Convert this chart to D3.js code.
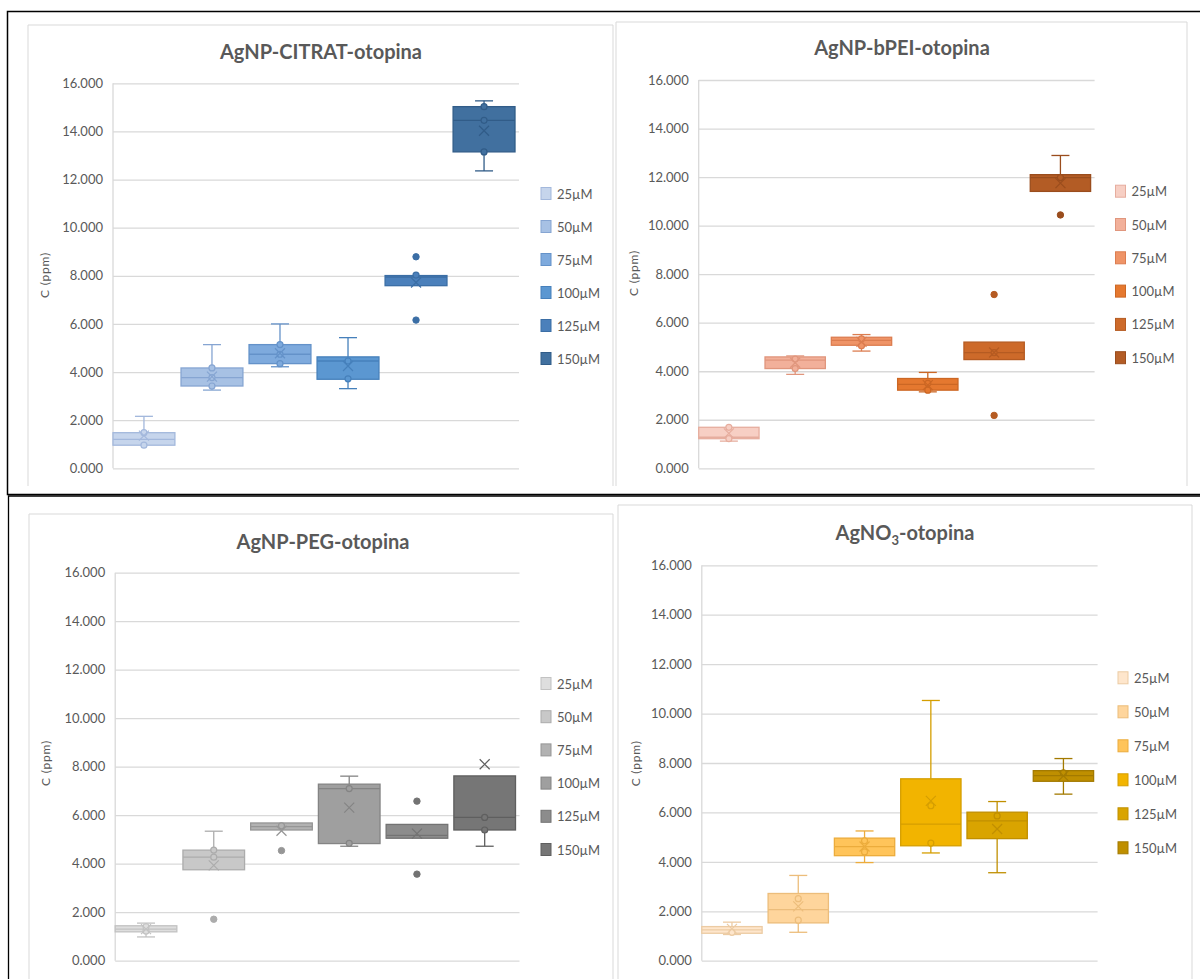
<!DOCTYPE html>
<html>
<head>
<meta charset="utf-8">
<script src="https://cdn.jsdelivr.net/npm/d3@7"></script>
<style>
  body { margin: 0; background: #fff; }
  svg { display: block; font-family: Lato, "Open Sans", sans-serif; }
</style>
</head>
<body>
<svg id="chart" width="1200" height="979"></svg>
<script>
// concentrations (one box per series)
const sizes = ["25µM", "50µM", "75µM", "100µM", "125µM", "150µM"];
const yTicks = [0, 2, 4, 6, 8, 10, 12, 14, 16];

// box stats: lo/hi = whisker ends, pts = inner points, out = outliers
const citrat = [
  { lo: 0.96, q1: 0.96, med: 1.20, q3: 1.48, hi: 2.16, mean: 1.36, pts: [0.96, 1.48], out: [] },
  { lo: 3.25, q1: 3.42, med: 3.77, q3: 4.17, hi: 5.14, mean: 3.81, pts: [3.42, 3.77, 4.17], out: [] },
  { lo: 4.22, q1: 4.35, med: 4.74, q3: 5.14, hi: 6.00, mean: 4.78, pts: [4.35, 4.74, 5.14], out: [] },
  { lo: 3.31, q1: 3.70, med: 4.46, q3: 4.63, hi: 5.43, mean: 4.25, pts: [3.72, 4.46], out: [] },
  { lo: 7.59, q1: 7.59, med: 7.95, q3: 8.01, hi: 8.01, mean: 7.72, pts: [8.03], out: [8.79, 6.16] },
  { lo: 12.36, q1: 13.15, med: 14.46, q3: 15.03, hi: 15.27, mean: 14.03, pts: [13.15, 14.46, 15.03], out: [] }
];
const bpei = [
  { lo: 1.12, q1: 1.22, med: 1.28, q3: 1.69, hi: 1.69, mean: 1.44, pts: [1.22, 1.69], out: [] },
  { lo: 3.87, q1: 4.11, med: 4.46, q3: 4.59, hi: 4.63, mean: 4.35, pts: [4.11, 4.50], out: [] },
  { lo: 4.83, q1: 5.07, med: 5.27, q3: 5.40, hi: 5.51, mean: 5.21, pts: [5.05, 5.33], out: [] },
  { lo: 3.15, q1: 3.22, med: 3.46, q3: 3.70, hi: 3.95, mean: 3.43, pts: [3.22, 3.50], out: [] },
  { lo: 4.48, q1: 4.48, med: 4.77, q3: 5.20, hi: 5.20, mean: 4.77, pts: [4.77], out: [7.16, 2.18] },
  { lo: 11.41, q1: 11.41, med: 11.98, q3: 12.10, hi: 12.89, mean: 11.75, pts: [11.98], out: [10.44] }
];
const peg = [
  { lo: 0.98, q1: 1.19, med: 1.30, q3: 1.44, hi: 1.55, mean: 1.30, pts: [1.22, 1.40], out: [] },
  { lo: 3.75, q1: 3.75, med: 4.27, q3: 4.56, hi: 5.34, mean: 3.93, pts: [4.27, 4.56], out: [1.71] },
  { lo: 5.39, q1: 5.39, med: 5.53, q3: 5.68, hi: 5.68, mean: 5.36, pts: [5.56], out: [4.54] },
  { lo: 4.72, q1: 4.83, med: 7.10, q3: 7.28, hi: 7.61, mean: 6.31, pts: [4.84, 7.10], out: [] },
  { lo: 5.05, q1: 5.05, med: 5.17, q3: 5.62, hi: 5.62, mean: 5.24, pts: [], out: [6.58, 3.57] },
  { lo: 4.72, q1: 5.39, med: 5.91, q3: 7.62, hi: 7.62, mean: 8.10, pts: [5.39, 5.91], out: [] }
];
const agno3 = [
  { lo: 1.06, q1: 1.11, med: 1.25, q3: 1.38, hi: 1.56, mean: 1.29, pts: [1.15], out: [] },
  { lo: 1.15, q1: 1.53, med: 2.07, q3: 2.72, hi: 3.45, mean: 2.20, pts: [1.64, 2.51], out: [] },
  { lo: 3.97, q1: 4.25, med: 4.62, q3: 4.96, hi: 5.25, mean: 4.62, pts: [4.40, 4.85], out: [] },
  { lo: 4.36, q1: 4.65, med: 5.53, q3: 7.36, hi: 10.53, mean: 6.47, pts: [4.76, 6.27], out: [] },
  { lo: 3.56, q1: 4.94, med: 5.66, q3: 6.01, hi: 6.44, mean: 5.33, pts: [5.86], out: [] },
  { lo: 6.74, q1: 7.26, med: 7.49, q3: 7.69, hi: 8.18, mean: 7.48, pts: [7.60], out: [] }
];

// palettes (fill / outline)
const blueFill = ["#c6d5ec", "#a7c1e4", "#7eaadd", "#5b97d1", "#4b80bb", "#41709f"];
const blueLine = ["#a3b8dc", "#86a5d2", "#6492c9", "#4680bb", "#3b6ea5", "#315c88"];
const orangeFill = ["#f7cfc4", "#f2b09a", "#ef9467", "#e5782f", "#cd6a2a", "#b35c25"];
const orangeLine = ["#e6ad9e", "#e0967d", "#dc7d50", "#cc6724", "#b55b22", "#9a4d1d"];
const grayFill = ["#dedede", "#c8c8c8", "#b2b2b2", "#9f9f9f", "#8c8c8c", "#767676"];
const grayLine = ["#c2c2c2", "#acacac", "#969696", "#848484", "#737373", "#5f5f5f"];
const goldFill = ["#fee6cc", "#fed59c", "#ffc45a", "#f2b400", "#d9a400", "#bf8f00"];
const goldLine = ["#eccba3", "#ecbd7b", "#ecac3c", "#d59e00", "#c08f00", "#a37a00"];

const panels = [
  { title: ["AgNP-CITRAT-otopina"], data: citrat, fill: blueFill, line: blueLine,
    frame: { l: 28, t: 25, r: 613, b: 486 }, plot: { l: 113, r: 519, t: 83.3, b: 468.3 },
    legend: { x: 541, y: 194, dy: 33 }, yTitle: { x: 45, y: 275 }, tp: { x: 321, y: 59 } },
  { title: ["AgNP-bPEI-otopina"], data: bpei, fill: orangeFill, line: orangeLine,
    frame: { l: 616, t: 22, r: 1187, b: 486 }, plot: { l: 698.7, r: 1094.6, t: 80, b: 468.3 },
    legend: { x: 1115.5, y: 191.7, dy: 33.3 }, yTitle: { x: 633.5, y: 273 }, tp: { x: 902, y: 55 } },
  { title: ["AgNP-PEG-otopina"], data: peg, fill: grayFill, line: grayLine,
    frame: { l: 29, t: 514, r: 613, b: 990 }, plot: { l: 115.2, r: 519.5, t: 572.7, b: 960.7 },
    legend: { x: 541, y: 684, dy: 33.2 }, yTitle: { x: 46, y: 763 }, tp: { x: 323, y: 549 } },
  { title: ["AgNO", "3", "-otopina"], data: agno3, fill: goldFill, line: goldLine,
    frame: { l: 618, t: 505, r: 1192, b: 990 }, plot: { l: 701.8, r: 1097.6, t: 565.3, b: 960.7 },
    legend: { x: 1118, y: 678.3, dy: 34 }, yTitle: { x: 635.4, y: 763.3 }, tp: { x: 905, y: 540 } }
];

const svg = d3.select("#chart");
const textCol = "#595959";
const gridCol = "#d9d9d9";

function drawPanel(p) {
  const g = svg.append("g");

  // light chart-area border (bottom edge falls outside the frame)
  g.append("path")
    .attr("d", `M${p.frame.l},${p.frame.b}V${p.frame.t}H${p.frame.r}V${p.frame.b}`)
    .attr("fill", "none").attr("stroke", "#d9d9d9").attr("stroke-width", 1);

  const y = d3.scaleLinear().domain([0, 16]).range([p.plot.b, p.plot.t]);
  const x = d3.scaleBand().domain(sizes)
    .range([p.plot.l, p.plot.r - 4]).paddingInner(0.09).paddingOuter(0);

  // gridlines + tick labels
  const axis = g.append("g")
    .attr("transform", `translate(${p.plot.l},0)`)
    .call(d3.axisLeft(y).tickValues(yTicks).tickFormat(d3.format(".3f"))
      .tickSize(-(p.plot.r - p.plot.l)).tickPadding(10));
  axis.select(".domain").remove();
  axis.selectAll(".tick line").attr("stroke", gridCol).attr("stroke-width", 1.3);
  axis.selectAll(".tick text").attr("fill", textCol)
    .style("font-size", "13px").style("font-family", "Lato, sans-serif");

  g.append("line")
    .attr("x1", p.plot.l).attr("x2", p.plot.l)
    .attr("y1", y(16)).attr("y2", y(0))
    .attr("stroke", gridCol).attr("stroke-width", 1.3);

  // y title
  g.append("text")
    .attr("transform", `translate(${p.yTitle.x},${p.yTitle.y}) rotate(-90)`)
    .attr("text-anchor", "middle").attr("dy", "0.35em")
    .attr("fill", textCol).style("font-size", "12px").style("letter-spacing", "0.8px")
    .text("C (ppm)");

  // chart title (with subscript for AgNO3)
  const t = g.append("text")
    .attr("x", p.tp.x).attr("y", p.tp.y)
    .attr("text-anchor", "middle").attr("fill", textCol)
    .style("font-size", "20px").style("font-weight", "700");
  if (p.title.length === 1) {
    t.text(p.title[0]);
  } else {
    t.append("tspan").text(p.title[0]);
    t.append("tspan").attr("dy", 5).style("font-size", "13px").text(p.title[1]);
    t.append("tspan").attr("dy", -5).text(p.title[2]);
  }

  // boxes
  p.data.forEach((d, i) => {
    const x0 = x(sizes[i]);
    const bw = x.bandwidth();
    const cx = x0 + bw / 2;
    const fill = p.fill[i];
    const line = p.line[i];
    const b = g.append("g");

    // whiskers
    [[d.q3, d.hi], [d.q1, d.lo]].forEach(([a, e]) => {
      if (Math.abs(a - e) < 0.001) return;
      b.append("line").attr("x1", cx).attr("x2", cx)
        .attr("y1", y(a)).attr("y2", y(e))
        .attr("stroke", line).attr("stroke-width", 1.3);
      b.append("line").attr("x1", cx - 9).attr("x2", cx + 9)
        .attr("y1", y(e)).attr("y2", y(e))
        .attr("stroke", line).attr("stroke-width", 1.3);
    });

    b.append("rect")
      .attr("x", x0).attr("y", y(d.q3))
      .attr("width", bw).attr("height", y(d.q1) - y(d.q3))
      .attr("fill", fill).attr("stroke", line).attr("stroke-width", 1.3);

    b.append("line").attr("x1", x0).attr("x2", x0 + bw)
      .attr("y1", y(d.med)).attr("y2", y(d.med))
      .attr("stroke", line).attr("stroke-width", 1.3);

    // inner points
    b.selectAll(".pt").data(d.pts).enter().append("circle")
      .attr("cx", cx).attr("cy", v => y(v)).attr("r", 3)
      .attr("fill", fill).attr("stroke", line).attr("stroke-width", 1.2);

    // outliers
    b.selectAll(".out").data(d.out).enter().append("circle")
      .attr("cx", cx).attr("cy", v => y(v)).attr("r", 3.2)
      .attr("fill", line).attr("stroke", line);

    // mean marker
    const my = y(d.mean), s = 5;
    b.append("path")
      .attr("d", `M${cx - s},${my - s}L${cx + s},${my + s}M${cx - s},${my + s}L${cx + s},${my - s}`)
      .attr("stroke", line).attr("stroke-width", 1.2).attr("fill", "none");
  });

  // legend
  const lg = g.append("g");
  sizes.forEach((s, i) => {
    const ly = p.legend.y + i * p.legend.dy;
    lg.append("rect")
      .attr("x", p.legend.x).attr("y", ly - 6.5)
      .attr("width", 10).attr("height", 12)
      .attr("fill", p.fill[i]).attr("stroke", p.line[i]).attr("stroke-width", 1);
    lg.append("text")
      .attr("x", p.legend.x + 16).attr("y", ly).attr("dy", "0.35em")
      .attr("fill", textCol).style("font-size", "13px")
      .text(s);
  });
}

panels.forEach(drawPanel);

// black frames around the two rows
svg.append("path")
  .attr("d", "M1210,11.5H7.5V494.5H1210")
  .attr("fill", "none").attr("stroke", "#000").attr("stroke-width", 1.5);
svg.append("path")
  .attr("d", "M1210,496H8.5V990")
  .attr("fill", "none").attr("stroke", "#000").attr("stroke-width", 1.3);
</script>
</body>
</html>
